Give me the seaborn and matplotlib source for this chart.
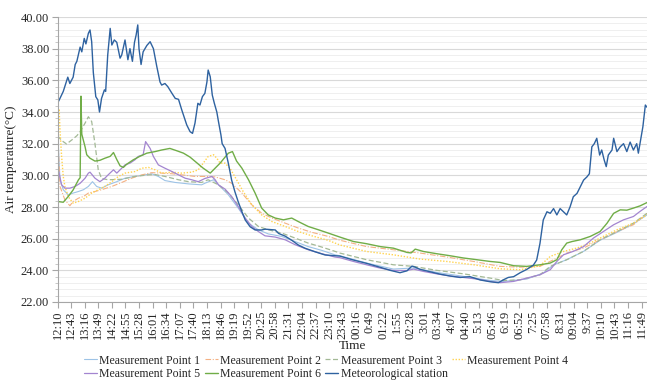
import matplotlib
matplotlib.use("Agg")
import matplotlib.pyplot as plt
from matplotlib.ticker import MultipleLocator, FormatStrFormatter
import seaborn as sns
import pandas as pd

# ---- data (minutes after 12:10, air temperature in deg C) ----
tick_labels = ["12:10", "12:43", "13:16", "13:49", "14:22", "14:55", "15:28", "16:01", "16:34",
               "17:07", "17:40", "18:13", "18:46", "19:19", "19:52", "20:25", "20:58", "21:31",
               "22:04", "22:37", "23:10", "23:43", "00:16", "0:49", "01:22", "1:55", "02:28",
               "3:01", "03:34", "4:07", "04:40", "5:13", "05:46", "6:19", "06:52", "7:25",
               "07:58", "8:31", "09:04", "9:37", "10:10", "10:43", "11:16", "11:49"]

mp1_t = [0, 6, 14, 26, 38, 51, 63, 75, 85, 95, 107, 123, 144, 164, 188, 213, 229, 245, 261, 286,
         318, 350, 358, 379, 395, 415, 439, 464, 488, 512, 545, 577, 609, 642, 674, 686, 751, 816,
         865, 921, 986, 1051, 1083, 1140, 1180, 1205, 1237, 1278, 1318, 1359, 1399, 1432]
mp1_v = [33.0, 29.72, 29.09, 28.77, 28.88, 28.98, 29.09, 29.3, 29.6, 29.3, 29.19, 29.4, 29.6, 29.82,
         29.93, 30.03, 30.1, 29.93, 29.67, 29.55, 29.46, 29.4, 29.5, 29.72, 29.3, 28.77, 27.93,
         26.98, 26.56, 26.3, 26.14, 25.82, 25.5, 25.26, 24.98, 24.92, 24.46, 24.08, 24.15, 23.87,
         23.62, 23.36, 23.3, 23.45, 23.83, 24.35, 24.67, 25.2, 25.9, 26.4, 26.94, 27.5]

mp2_t = [0, 6, 18, 30, 38, 51, 63, 75, 91, 107, 132, 156, 180, 205, 229, 253, 278, 302, 334, 358,
         383, 407, 423, 448, 472, 496, 521, 553, 585, 618, 658, 686, 751, 816, 881, 946, 1011,
         1075, 1124, 1172, 1205, 1237, 1278, 1318, 1359, 1399, 1432]
mp2_v = [33.1, 29.3, 28.45, 28.08, 28.35, 28.56, 28.66, 28.88, 28.98, 29.09, 29.3, 29.55, 29.82,
         30.03, 30.17, 30.14, 30.1, 30.03, 29.93, 29.93, 29.9, 29.72, 29.5, 28.88, 28.14, 27.61,
         27.3, 26.98, 26.67, 26.4, 26.14, 25.9, 25.5, 25.3, 25.09, 24.84, 24.56, 24.25, 24.2,
         24.25, 24.67, 25.09, 25.41, 25.93, 26.45, 26.88, 27.6]

mp3_t = [0, 10, 22, 35, 47, 55, 67, 75, 83, 91, 99, 107, 123, 156, 188, 221, 237, 261, 294, 318,
         350, 366, 391, 415, 439, 464, 488, 512, 545, 577, 609, 642, 674, 686, 751, 816, 865, 921,
         986, 1051, 1083, 1124, 1172, 1197, 1237, 1278, 1318, 1359, 1399, 1432]
mp3_v = [32.5, 32.2, 31.98, 32.24, 32.5, 32.76, 33.3, 33.7, 33.4, 32.0, 30.35, 29.8, 29.72, 29.75,
         29.93, 30.03, 30.05, 29.93, 29.72, 29.6, 29.55, 29.72, 29.4, 28.88, 28.14, 27.3, 26.77,
         26.56, 26.35, 26.04, 25.72, 25.47, 25.2, 25.09, 24.67, 24.35, 24.25, 24.0, 23.78, 23.51,
         23.36, 23.4, 23.72, 24.25, 24.67, 25.2, 25.93, 26.45, 26.98, 27.6]

mp4_t = [0, 4, 6, 10, 14, 18, 26, 38, 51, 67, 83, 99, 115, 132, 148, 164, 188, 205, 221, 237, 253,
         278, 302, 326, 342, 354, 366, 379, 387, 395, 407, 419, 435, 451, 472, 496, 521, 553, 585,
         618, 658, 686, 751, 816, 881, 946, 1011, 1075, 1124, 1172, 1197, 1229, 1262, 1294, 1326,
         1359, 1399, 1432]
mp4_v = [33.5, 34.2, 32.87, 31.19, 29.93, 29.3, 28.66, 28.24, 28.35, 28.56, 28.88, 29.09, 29.3,
         29.6, 29.93, 30.14, 30.24, 30.45, 30.5, 30.35, 30.14, 30.2, 30.14, 30.2, 30.35, 30.77,
         31.19, 31.3, 31.08, 30.77, 30.77, 30.45, 29.72, 28.98, 28.14, 27.5, 27.08, 26.77, 26.45,
         26.18, 25.89, 25.6, 25.19, 24.98, 24.71, 24.56, 24.35, 24.1, 24.04, 24.29, 24.88, 25.19,
         25.41, 25.72, 26.14, 26.56, 26.98, 27.5]

mp5_t = [0, 2, 10, 18, 30, 43, 55, 67, 75, 79, 91, 103, 115, 123, 136, 144, 156, 164, 176, 188,
         196, 208, 214, 225, 233, 245, 261, 278, 294, 310, 326, 342, 358, 375, 383, 391, 407, 423,
         439, 456, 472, 488, 504, 529, 553, 577, 609, 642, 674, 686, 719, 751, 784, 816, 849, 865,
         889, 921, 954, 986, 1019, 1051, 1075, 1108, 1140, 1172, 1197, 1213, 1229, 1253, 1278,
         1302, 1326, 1351, 1375, 1399, 1415, 1432]
mp5_v = [33.4, 30.35, 29.4, 29.19, 29.19, 29.3, 29.5, 29.82, 30.14, 30.2, 29.82, 29.6, 29.82,
         30.03, 30.35, 30.14, 30.45, 30.66, 30.77, 30.98, 31.19, 31.3, 32.13, 31.7, 31.19, 30.66,
         30.45, 30.24, 30.03, 29.82, 29.72, 29.6, 29.8, 29.93, 29.72, 29.4, 29.13, 28.66, 28.03,
         27.3, 26.77, 26.45, 26.18, 26.1, 25.93, 25.62, 25.3, 25.05, 24.84, 24.8, 24.56, 24.35,
         24.14, 23.99, 23.99, 24.08, 23.93, 23.78, 23.64, 23.55, 23.45, 23.3, 23.22, 23.3, 23.51,
         23.72, 24.04, 24.56, 24.98, 25.2, 25.5, 26.04, 26.45, 26.88, 27.19, 27.4, 27.72, 28.03]

mp6_t = [0, 14, 26, 38, 51, 55, 57, 59, 63, 67, 71, 79, 91, 103, 115, 128, 136, 144, 152, 160, 168,
         184, 200, 217, 237, 253, 273, 290, 306, 322, 338, 354, 371, 395, 415, 425, 435, 448, 464,
         480, 496, 512, 529, 549, 569, 585, 609, 634, 658, 686, 719, 751, 784, 816, 849, 859, 869,
         889, 921, 954, 986, 1019, 1051, 1075, 1108, 1140, 1172, 1197, 1213, 1225, 1237, 1250,
         1270, 1294, 1318, 1335, 1351, 1367, 1383, 1399, 1415, 1432]
mp6_v = [28.35, 28.3, 28.66, 29.08, 29.72, 29.85, 35.0, 32.6, 32.2, 31.8, 31.3, 31.08, 30.9,
         30.95, 31.08, 31.2, 31.44, 31.0, 30.6, 30.5, 30.7, 30.98, 31.2, 31.4, 31.5, 31.6, 31.7,
         31.55, 31.4, 31.15, 30.8, 30.45, 30.14, 30.77, 31.4, 31.5, 30.9, 30.45, 29.72, 28.88,
         27.93, 27.5, 27.3, 27.19, 27.3, 27.08, 26.77, 26.56, 26.35, 26.1, 25.82, 25.68, 25.5,
         25.4, 25.13, 25.1, 25.34, 25.19, 25.05, 24.92, 24.78, 24.67, 24.56, 24.5, 24.29, 24.25,
         24.35, 24.46, 24.67, 25.3, 25.72, 25.82, 25.93, 26.14, 26.45, 26.98, 27.6, 27.82, 27.8,
         27.93, 28.07, 28.28]

met_t = [0, 6, 14, 25, 30, 38, 43, 47, 55, 59, 65, 69, 75, 79, 83, 87, 93, 98, 102, 107, 114, 117,
         122, 128, 132, 138, 144, 152, 156, 164, 171, 176, 182, 187, 191, 195, 198, 203, 208, 217,
         225, 233, 241, 249, 253, 261, 268, 278, 286, 294, 302, 314, 322, 328, 334, 341, 346, 352,
         358, 363, 366, 371, 376, 381, 387, 391, 397, 400, 407, 415, 423, 431, 439, 448, 456, 468,
         480, 496, 504, 529, 537, 553, 569, 585, 601, 626, 650, 686, 719, 751, 784, 808, 832, 849,
         861, 869, 881, 905, 929, 954, 978, 1002, 1027, 1051, 1071, 1083, 1095, 1108, 1124, 1140,
         1156, 1164, 1172, 1180, 1189, 1197, 1205, 1213, 1221, 1229, 1237, 1245, 1253, 1262, 1270,
         1278, 1286, 1292, 1298, 1304, 1310, 1317, 1322, 1328, 1333, 1338, 1347, 1351, 1359, 1367,
         1375, 1383, 1391, 1399, 1407, 1411, 1415, 1422, 1428, 1432]
met_v = [34.55, 34.86, 35.3, 36.2, 35.8, 36.2, 37.0, 37.2, 38.1, 37.8, 38.65, 38.3, 38.97, 39.18,
         38.44, 36.5, 34.97, 34.76, 34.0, 34.86, 35.4, 35.3, 37.6, 39.28, 38.23, 38.55, 38.4, 37.4,
         37.6, 38.55, 37.3, 38.0, 37.2, 38.4, 38.86, 39.5, 38.0, 37.0, 37.8, 38.2, 38.44, 38.0,
         36.9, 35.9, 35.7, 35.8, 35.6, 35.18, 34.86, 34.8, 34.12, 33.18, 32.76, 32.65, 33.3, 34.55,
         34.44, 34.97, 35.18, 35.9, 36.65, 36.23, 35.07, 34.55, 34.0, 33.4, 32.55, 32.0, 31.7,
         30.76, 29.7, 28.96, 28.33, 27.7, 27.18, 26.75, 26.55, 26.55, 26.6, 26.55, 26.33, 26.16,
         25.9, 25.6, 25.4, 25.17, 24.97, 24.9, 24.65, 24.44, 24.19, 24.0, 23.85, 23.97, 24.27,
         24.2, 24.06, 23.91, 23.76, 23.64, 23.55, 23.6, 23.39, 23.28, 23.22, 23.4, 23.55, 23.6,
         23.85, 24.06, 24.33, 24.65, 25.7, 27.18, 27.7, 27.6, 27.9, 27.5, 27.9, 27.7, 27.5, 28.0,
         28.65, 28.86, 29.28, 29.7, 29.9, 30.1, 31.8, 32.0, 32.34, 31.28, 31.6, 30.97, 30.55,
         31.28, 31.6, 32.34, 31.5, 31.8, 32.0, 31.5, 32.1, 31.6, 32.0, 31.4, 32.0, 33.07, 34.44,
         34.3]

series = [
    ("Measurement Point 1", mp1_t, mp1_v, "#9DC3E6", "-", 0.8),
    ("Measurement Point 2", mp2_t, mp2_v, "#F4B183", (0, (5, 1.5, 1, 1.5)), 0.8),
    ("Measurement Point 3", mp3_t, mp3_v, "#A3B996", (0, (4, 2)), 0.9),
    ("Measurement Point 4", mp4_t, mp4_v, "#FFD34F", (0, (1, 1.2)), 1.0),
    ("Measurement Point 5", mp5_t, mp5_v, "#A385D0", "-", 0.9),
    ("Measurement Point 6", mp6_t, mp6_v, "#70AD47", "-", 1.0),
    ("Meteorological station", met_t, met_v, "#2E62A0", "-", 1.0),
]

sns.set_style("white")
plt.rcParams["font.family"] = ["Liberation Serif", "DejaVu Serif"]

fig = plt.figure(figsize=(6.47, 3.89), dpi=100)
ax = fig.add_axes([57.5 / 647, 1 - 302 / 389, (647 - 57.5) / 647, (302 - 17) / 389])

handles = {}
for name, t, v, col, ls, lw in series:
    df = pd.DataFrame({"minute": t, "temp": v})
    sns.lineplot(data=df, x="minute", y="temp", ax=ax, color=col, linestyle=ls,
                 linewidth=lw, label=name, estimator=None, sort=False)
for line, (name, *_rest) in zip(ax.get_lines(), series):
    handles[name] = line
if ax.get_legend() is not None:
    ax.get_legend().remove()

ax.set_xlim(0, 1432)
ax.set_ylim(22, 40)
ax.set_xticks([33 * i for i in range(len(tick_labels))])
ax.set_xticklabels(tick_labels, rotation=90, fontsize=9)
ax.yaxis.set_major_locator(MultipleLocator(2))
ax.yaxis.set_minor_locator(MultipleLocator(0.4))
ax.yaxis.set_major_formatter(FormatStrFormatter("%.2f"))
ax.tick_params(axis="y", which="major", labelsize=9, length=4, width=0.8, color="#A6A6A6",
               left=True, pad=2)
ax.tick_params(axis="y", which="minor", length=2, width=0.6, color="#BFBFBF", left=True)
ax.tick_params(axis="x", which="major", length=4, width=0.8, color="#A6A6A6", bottom=True, pad=2)

ax.grid(which="major", axis="y", color="#D9D9D9", linewidth=0.8)
ax.grid(which="minor", axis="y", color="#EFEFEF", linewidth=0.7)
ax.grid(which="major", axis="x", visible=False)
ax.set_axisbelow(True)

for s in ["top", "right"]:
    ax.spines[s].set_visible(False)
for s in ["left", "bottom"]:
    ax.spines[s].set_color("#A6A6A6")
    ax.spines[s].set_linewidth(0.8)

ax.set_xlabel("Time", fontsize=9.5, labelpad=1)
ax.set_ylabel("Air temperature(°C)", fontsize=9.5, labelpad=3)

order = ["Measurement Point 1", "Measurement Point 5", "Measurement Point 2", "Measurement Point 6",
         "Measurement Point 3", "Meteorological station", "Measurement Point 4"]
fig.legend([handles[n] for n in order], order, loc="center", bbox_to_anchor=(0.504, 0.056),
           ncol=4, frameon=False, fontsize=8.5, handlelength=1.1, handletextpad=0.2,
           columnspacing=0.35, labelspacing=0.1, borderpad=0.1)

fig.savefig("out.png", dpi=100)
